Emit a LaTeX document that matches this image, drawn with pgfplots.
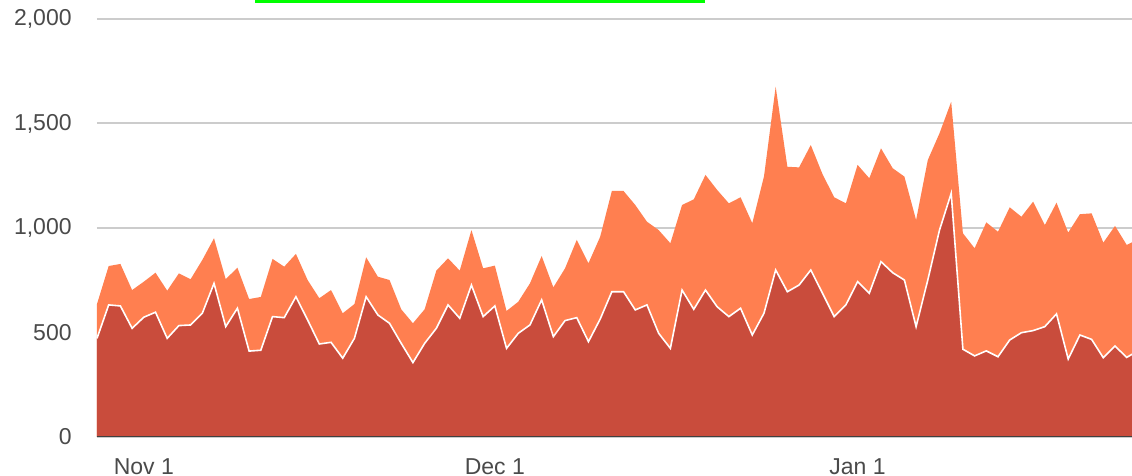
\documentclass[border=0pt]{standalone}
\usepackage{pgfplots}
\pgfplotsset{compat=1.18}
\usepackage{pgfplotstable}
\usepackage{fontspec}
\setmainfont{Liberation Sans}
\definecolor{topc}{HTML}{FF7F50}
\definecolor{botc}{HTML}{C94C3C}
\definecolor{gridc}{HTML}{CCCCCC}
\definecolor{txt}{HTML}{4A4A4A}
\pgfplotstableread{
idx total a
0 636 472
1 818 632
2 828 627
3 703 520
4 743 573
5 786 597
6 700 472
7 783 533
8 755 536
9 847 592
10 951 735
11 755 528
12 810 616
13 660 411
14 670 415
15 852 576
16 815 571
17 876 671
18 751 560
19 664 445
20 703 453
21 592 377
22 636 472
23 860 671
24 767 584
25 751 544
26 611 448
27 544 356
28 611 448
29 796 520
30 855 632
31 796 568
32 990 727
33 807 576
34 820 627
35 603 424
36 647 496
37 735 536
38 866 656
39 716 480
40 807 557
41 943 571
42 831 456
43 958 564
44 1177 695
45 1177 695
46 1110 608
47 1030 632
48 990 496
49 927 424
50 1110 703
51 1137 611
52 1254 703
53 1182 623
54 1118 576
55 1147 616
56 1023 488
57 1246 592
58 1676 799
59 1293 695
60 1290 727
61 1397 799
62 1258 688
63 1147 576
64 1118 632
65 1302 743
66 1238 688
67 1381 839
68 1286 786
69 1246 751
70 1038 528
71 1325 751
72 1453 990
73 1604 1166
74 975 420
75 903 388
76 1027 412
77 982 384
78 1099 464
79 1054 499
80 1126 509
81 1014 528
82 1121 589
83 978 373
84 1066 488
85 1070 467
86 930 379
87 1010 435
88 919 381
89 946 413
}\datatable
\begin{document}
\begin{tikzpicture}
\begin{axis}[
  at={(0,0)}, anchor=south west,
  scale only axis,
  width=517.5pt, height=209pt,
  xmin=0, xmax=88.45,
  ymin=0, ymax=2000,
  ytick={0,500,1000,1500,2000},
  xtick={4,34,65},
  xticklabels={Nov 1,Dec 1,Jan 1},
  ymajorgrids,
  grid style={gridc, line width=1pt},
  axis line style={draw=none},
  major tick length=0pt,
  tick style={draw=none},
  /pgf/number format/assume math mode=true,
  /pgf/number format/1000 sep={,},
  yticklabel style={font=\fontsize{11.5}{13}\selectfont, text=txt, anchor=east, inner sep=0pt, xshift=-12.5pt},
  xticklabel style={font=\fontsize{11.5}{13}\selectfont, text=txt, anchor=north, inner sep=0pt, yshift=-10.5pt},
  clip=true,
]
\addplot[fill=topc, draw=none] table[x=idx, y=total] {\datatable} \closedcycle;
\addplot[fill=botc, draw=none] table[x=idx, y=a] {\datatable} \closedcycle;
\addplot[white, line width=0.8pt] table[x=idx, y=a] {\datatable};
\draw[black!75, line width=1pt] (rel axis cs:0,0) -- (rel axis cs:1,0);
\end{axis}
\fill[green] (79pt,217pt) rectangle (304pt,218.5pt);
\pgfresetboundingbox
\path (-48.5pt,-19.5pt) rectangle (517.5pt,218.5pt);
\end{tikzpicture}
\end{document}
